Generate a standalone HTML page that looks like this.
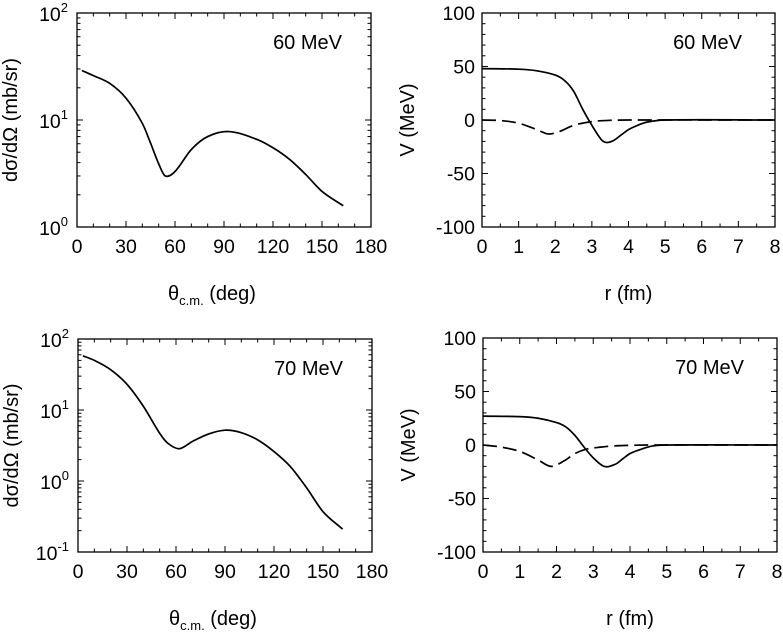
<!DOCTYPE html>
<html><head><meta charset="utf-8"><style>
html,body{margin:0;padding:0;background:#fff;}
svg{display:block;font-family:"Liberation Sans",Arial,sans-serif;}
</style></head><body>
<svg id="fig" width="783" height="638" viewBox="0 0 783 638" xmlns="http://www.w3.org/2000/svg"></svg>
<script>
// ---- data ----
const xs60 = [3,10,20,30,40,45,50,54,60,70,80,93,110,120,130,140,150,163];
const xsec60 = [29,26,22,16,9.3,6.1,3.9,3.0,3.3,5.3,7.0,7.8,6.6,5.5,4.3,3.1,2.15,1.58];
const xs70 = [3,10,20,30,40,50,55,62,70,80,90,100,110,120,130,140,150,162];
const xsec70 = [58,50,37,23,11.3,4.7,3.4,2.85,3.6,4.6,5.2,4.8,3.8,2.6,1.6,0.8,0.37,0.21];
const r60s = [0,1,1.5,2,2.25,2.5,2.75,3,3.25,3.4,3.6,3.8,4,4.25,4.5,5,8];
const v60s = [48,47.5,46,42,37,27,10,-5,-18,-21,-19,-14,-9,-5,-2,0,0];
const r60d = [0,0.5,1,1.5,1.8,2.1,2.5,3,3.5,4,8];
const v60d = [0,-0.5,-3,-9,-13,-11,-5,-1.5,-0.3,0,0];
const r70s = [0,1,1.5,2,2.25,2.5,2.75,3,3.3,3.6,3.8,4,4.3,4.6,5,8];
const v70s = [27,26.5,25,21,17,9,-2,-12,-20,-18,-13,-8,-4,-1,0,0];
const r70d = [0,0.5,1,1.5,1.85,2.2,2.5,2.8,3.2,3.5,4,4.5,8];
const v70d = [0,-2,-6,-14,-20,-15,-8,-4,-2,-1,-0.3,0,0];
const xTicksDeg = [0,30,60,90,120,150,180];
const xTicksR = [0,1,2,3,4,5,6,7,8];
const yTicksV = [100,50,0,-50,-100];

const NS="http://www.w3.org/2000/svg";
const svg=document.getElementById('fig');
function el(tag,attrs,parent){const e=document.createElementNS(NS,tag);for(const k in attrs)e.setAttribute(k,attrs[k]);(parent||svg).appendChild(e);return e;}
function smooth(pts){
  const n=pts.length;
  const m=pts.map((p,i)=>{
    const a=pts[Math.max(0,i-1)],b=pts[Math.min(n-1,i+1)];
    return (b[1]-a[1])/(b[0]-a[0]);
  });
  let d=`M${pts[0][0]},${pts[0][1]}`;
  for(let i=0;i<n-1;i++){
    const p1=pts[i],p2=pts[i+1],dx=(p2[0]-p1[0])/3;
    d+=`C${p1[0]+dx},${p1[1]+m[i]*dx} ${p2[0]-dx},${p2[1]-m[i+1]*dx} ${p2[0]},${p2[1]}`;
  }
  return d;
}
function frame(g,L,T,R,B){
  const f=el('rect',{x:L,y:T,width:R-L,height:B-T,fill:'none',stroke:'#000','stroke-width':1.3},g);
  
  
}
function tick(g,x1,y1,x2,y2){el('line',{x1,y1,x2,y2,stroke:'#000','stroke-width':1},g);}
function text(g,x,y,s,anchor,size,name){
  const t=el('text',{x,y,'font-size':size,'text-anchor':anchor,fill:'#000'},g);
  t.textContent=s;
  
  
  return t;
}

function logPanel(id,L,T,R,B,dmin,dmax,xsArr,ysArr,label){
  const g=el('g',{});
  
  
  const X=v=>L+(v-0)/180*(R-L);
  const Y=v=>B-(Math.log10(v)-dmin)/(dmax-dmin)*(B-T);
  for(let v=0;v<=180;v+=10){
    const len=(v%30===0)?6:3.5;
    tick(g,X(v),B,X(v),B-len);tick(g,X(v),T,X(v),T+len);
  }
  xTicksDeg.forEach(v=>text(g,X(v),B+26,String(v),'middle',19.5,'x-tick-label'));
  for(let d=dmin;d<=dmax;d++){
    tick(g,L,Y(10**d),L+6,Y(10**d));tick(g,R,Y(10**d),R-6,Y(10**d));
    const t=text(g,L-9,Y(10**d)+8,'10','end',19.5,'y-tick-label');
    const s=el('tspan',{dy:-9,'font-size':13},t);s.textContent=String(d);
    if(d<dmax){for(let m=2;m<=9;m++){const y=Y(m*10**d);tick(g,L,y,L+3.5,y);tick(g,R,y,R-3.5,y);}}
  }
  frame(g,L,T,R,B);
  const p=el('path',{d:smooth(xsArr.map((x,i)=>[X(x),Y(ysArr[i])])),fill:'none',stroke:'#000','stroke-width':1.7},g);
  
  
  text(g,R-29,T+36,label,'end',20,'energy-label');
  const yt=el('text',{transform:`translate(${L-60},${(T+B)/2}) rotate(-90)`,'font-size':20,'text-anchor':'middle'},g);
  yt.textContent='dσ/dΩ (mb/sr)';
  
  
  const xt=el('text',{x:(L+R)/2-56,y:B+73,'font-size':20},g);
  
  
  const a=el('tspan',{},xt);a.textContent='θ';
  const b=el('tspan',{dy:5,'font-size':13},xt);b.textContent='c.m.';
  const c=el('tspan',{dy:-5},xt);c.textContent=' (deg)';
}

function potPanel(id,L,T,R,B,rs,vs,rd,vd,label){
  const g=el('g',{});
  
  
  const X=v=>L+v/8*(R-L);
  const Y=v=>B-(v+100)/200*(B-T);
  for(let i=0;i<=16;i++){const v=i/2;const len=(i%2===0)?6:3.5;
    tick(g,X(v),B,X(v),B-len);tick(g,X(v),T,X(v),T+len);}
  xTicksR.forEach(v=>text(g,X(v),B+26,String(v),'middle',19.5,'x-tick-label'));
  for(let v=-100;v<=100;v+=10){const len=(v%50===0)?6:3.5;
    tick(g,L,Y(v),L+len,Y(v));tick(g,R,Y(v),R-len,Y(v));}
  yTicksV.forEach(v=>text(g,L-7,Y(v)+7,String(v),'end',19.5,'y-tick-label'));
  frame(g,L,T,R,B);
  const p1=el('path',{d:smooth(rs.map((x,i)=>[X(x),Y(vs[i])])),fill:'none',stroke:'#000','stroke-width':1.7},g);
  
  
  const p2=el('path',{d:smooth(rd.map((x,i)=>[X(x),Y(vd[i])])),fill:'none',stroke:'#000','stroke-width':1.7,'stroke-dasharray':'14,6'},g);
  
  
  text(g,R-33,T+36,label,'end',20,'energy-label');
  const yt=el('text',{transform:`translate(${L-68},${(T+B)/2}) rotate(-90)`,'font-size':20,'text-anchor':'middle'},g);
  yt.textContent='V (MeV)';
  
  
  text(g,(L+R)/2,B+73,'r (fm)','middle',20,'x-axis-title');
}

logPanel('cross-section-60',77,13,371,227,0,2,xs60,xsec60,'60 MeV');
potPanel('potential-60',482,13,775,227,r60s,v60s,r60d,v60d,'60 MeV');
logPanel('cross-section-70',78,339,372,552,-1,2,xs70,xsec70,'70 MeV');
potPanel('potential-70',483,338,777,552,r70s,v70s,r70d,v70d,'70 MeV');
</script>
</body></html>
